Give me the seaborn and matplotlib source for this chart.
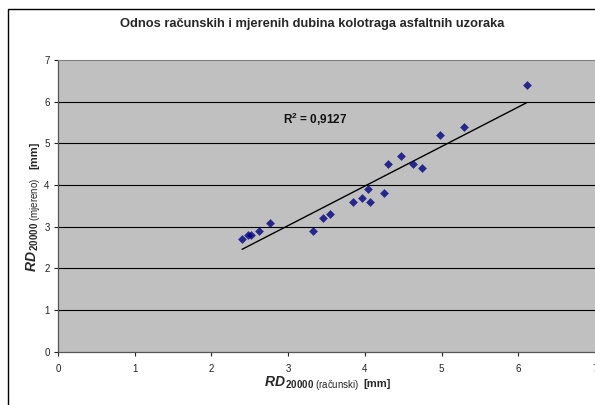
import matplotlib
matplotlib.use("Agg")
import matplotlib.pyplot as plt
import seaborn as sns
import numpy as np
import pandas as pd
from matplotlib.patches import Rectangle

# ---- data ----
x_racunski = [2.40, 2.48, 2.51, 2.62, 2.76, 3.33, 3.45, 3.55, 3.85, 3.96,
              4.04, 4.07, 4.25, 4.30, 4.47, 4.63, 4.74, 4.98, 5.29, 6.11]
y_mjereno = [2.7, 2.8, 2.8, 2.9, 3.1, 2.9, 3.2, 3.3, 3.6, 3.7,
             3.9, 3.6, 3.8, 4.5, 4.7, 4.5, 4.4, 5.2, 5.4, 6.4]
x_ticks = [0, 1, 2, 3, 4, 5, 6, 7]
y_ticks = [0, 1, 2, 3, 4, 5, 6, 7]
title = "Odnos računskih i mjerenih dubina kolotraga asfaltnih uzoraka"
r2_text = "R$^{\\mathbf{2}}$ = 0,9127"

df = pd.DataFrame({"x": x_racunski, "y": y_mjereno})

sns.set_theme(style="white")
plt.rcParams["font.family"] = ["Liberation Sans", "DejaVu Sans"]
plt.rcParams["mathtext.fontset"] = "custom"
plt.rcParams["mathtext.rm"] = "Liberation Sans"
plt.rcParams["mathtext.it"] = "Liberation Sans:italic"
plt.rcParams["mathtext.bf"] = "Liberation Sans:bold"
plt.rcParams["mathtext.bfit"] = "Liberation Sans:italic:bold"

W, H = 595, 405
fig = plt.figure(figsize=(5.95, 4.05), dpi=100)
fig.patch.set_facecolor("white")
# chart border
fig.patches.append(Rectangle((8 / W, -0.01), 1.1, 1 - 9 / H + 0.01,
                             transform=fig.transFigure, fill=False,
                             edgecolor="black", linewidth=1.0))

ax = fig.add_axes([58 / W, 1 - 351.7 / H, (595 - 58) / W, (351.7 - 60) / H])
ax.set_facecolor("#C0C0C0")

for yv in y_ticks[1:-1]:
    ax.axhline(yv, color="black", linewidth=0.8, zorder=1)

sns.regplot(data=df, x="x", y="y", ax=ax, ci=None, truncate=True, marker="D",
            scatter_kws=dict(s=20, color="#000080", linewidths=0, zorder=3),
            line_kws=dict(color="black", linewidth=1.0, zorder=2))

ax.set_xlim(0, 7)
ax.set_ylim(0, 7)
ax.set_xticks(x_ticks)
ax.set_yticks(y_ticks)
ax.tick_params(axis="both", labelsize=7, colors="#222222", length=3, width=0.8,
               direction="out", pad=3, left=True, bottom=True)
ax.tick_params(axis="x", pad=6)
for side in ["left", "bottom"]:
    ax.spines[side].set_color("#555555")
    ax.spines[side].set_linewidth(0.9)
ax.spines["top"].set_color("#808080")
ax.spines["top"].set_linewidth(0.8)
ax.spines["right"].set_visible(False)

ax.set_xlabel("")
ax.set_ylabel("")

fig.text(312 / W, 1 - 24 / H, title, ha="center", va="center",
         fontsize=9.3, fontweight="bold")

# x axis label
fig.text(264 / W, 1 - 387 / H,
         r"$\mathbfit{RD}_{\,\mathbf{20000}\ \mathrm{(računski)}}$",
         ha="left", va="baseline", fontsize=10)
fig.text(391 / W, 1 - 387 / H, "[mm]", ha="right", va="baseline",
         fontsize=8, fontweight="bold")

# y axis label
fig.text(37 / W, 1 - 272 / H,
         r"$\mathbfit{RD}_{\,\mathbf{20000}\ \mathrm{(mjereno)}}$",
         ha="left", va="baseline", fontsize=10, rotation=90,
         rotation_mode="anchor")
fig.text(37 / W, 1 - 142 / H, "[mm]", ha="right", va="baseline",
         fontsize=8, fontweight="bold", rotation=90, rotation_mode="anchor")

ax.text(2.93, 5.58, r2_text, ha="left", va="center", fontsize=8.5,
        fontweight="bold", color="#111111")

fig.savefig("out.png", dpi=100)
